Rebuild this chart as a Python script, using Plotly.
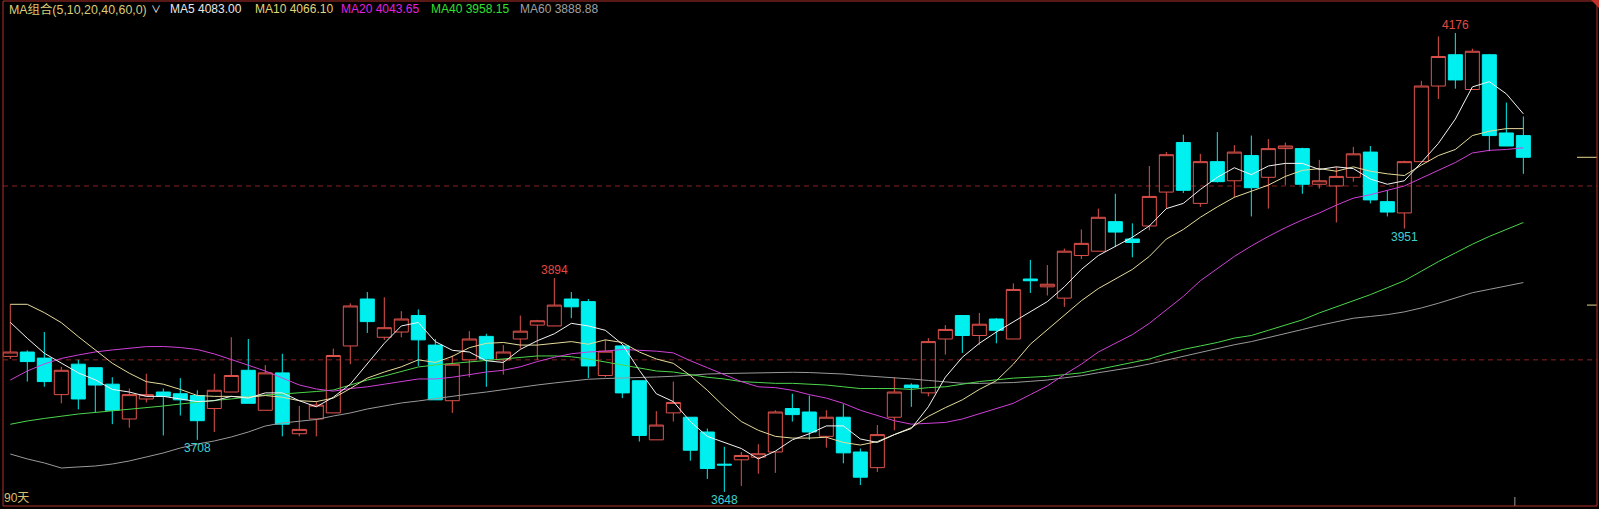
import plotly.graph_objects as go

# ---------------- data ----------------
opens = [3804,3809,3802,3760,3795,3791,3772,3732,3755,3763,3761,3759,3744,3763,3788,3742,3785,3715,3732,3739,
         3816,3870,3826,3832,3851,3817,3753,3800,3827,3800,3824,3840,3839,3870,3867,3782,3816,3776,3708,3739,
         3734,3717,3680,3685,3688,3694,3744,3740,3712,3734,3694,3676,3734,3771,3762,3824,3851,3828,3847,3824,
         3893,3884,3871,3920,3925,3959,3939,3954,3993,4050,3980,4028,4006,4035,4010,4043,4043,4002,4000,4010,
         4039,3982,3969,4028,4115,4151,4111,4151,4061,4058]
highs = [3864,3811,3832,3792,3800,3791,3780,3767,3784,3767,3779,3765,3784,3826,3824,3794,3807,3747,3752,3813,
         3865,3878,3872,3856,3858,3824,3805,3833,3830,3817,3851,3846,3894,3878,3870,3823,3817,3776,3741,3775,
         3734,3721,3700,3694,3703,3742,3761,3759,3742,3749,3698,3725,3780,3773,3825,3840,3851,3854,3848,3888,
         3915,3909,3928,3950,3974,3991,3957,4023,4039,4059,4037,4062,4047,4058,4054,4050,4044,4030,4022,4045,
         4046,3995,4029,4121,4172,4176,4158,4152,4096,4080]
lows = [3801,3775,3769,3750,3743,3739,3726,3722,3751,3713,3736,3708,3717,3763,3750,3742,3712,3712,3712,3739,
        3795,3831,3823,3826,3793,3754,3739,3780,3769,3783,3813,3800,3839,3848,3779,3780,3756,3706,3708,3729,
        3684,3663,3648,3655,3669,3670,3729,3708,3699,3681,3656,3671,3719,3746,3758,3806,3808,3817,3819,3824,
        3877,3874,3861,3916,3925,3930,3918,3949,3974,3992,3976,4004,3987,3965,3974,4001,3991,3997,3958,4005,
        3980,3965,3951,4028,4100,4112,4111,4040,4046,4014]
closes = [3809,3798,3775,3788,3755,3771,3742,3760,3760,3758,3754,3730,3765,3782,3750,3785,3726,3720,3748,3805,
          3862,3844,3837,3847,3823,3754,3795,3824,3801,3809,3833,3845,3863,3861,3793,3810,3762,3713,3725,3751,
          3696,3675,3679,3690,3692,3740,3737,3717,3734,3693,3665,3714,3763,3768,3821,3835,3828,3841,3834,3881,
          3891,3887,3925,3934,3964,3947,3935,3988,4036,3995,4028,4005,4039,3998,4043,4046,4002,4006,4011,4037,
          3984,3970,4028,4115,4149,4122,4155,4058,4046,4033]

ma5 = [3843.2,3824.8,3807.6,3796.1,
       3785,3777,3766,3763,3758,3758,3755,3752,3753,3758,3756,3762,3762,3753,3746,3757,3772,3796,3819,3839,
       3843,3821,3811,3809,3799,3797,3812,3822,3830,3842,3839,3834,3818,3788,3761,3752,3729,3712,3705,3698,
       3686,3695,3708,3715,3724,3724,3709,3705,3714,3721,3746,3780,3803,3819,3832,3844,3855,3867,3884,3904,
       3920,3931,3941,3954,3974,3980,3996,4010,4021,4013,4023,4026,4026,4019,4022,4020,4008,4002,4006,4027,
       4049,4077,4114,4120,4106,4083]
ma10 = [3863.9,3863.9,3854.3,3842.8,3826.7,3811.4,3796.1,3784.6,3774.9,
        3772,3766,3759,3758,3758,3757,3759,3757,3753,3752,3756,3767,3779,3786,3792,3800,3797,3804,3814,3819,
        3820,3817,3817,3819,3821,3818,3823,3820,3809,3801,3796,3782,3765,3746,3729,3719,3712,3710,3710,3711,
        3705,3702,3706,3714,3722,3735,3745,3754,3766,3776,3795,3818,3835,3851,3868,3882,3893,3904,3919,3939,
        3950,3964,3976,3987,3994,4001,4011,4018,4020,4017,4022,4017,4014,4012,4024,4035,4042,4058,4063,4066,
        4066]
ma20 = [3776.8,3787.2,3795.3,3801.6,3805.6,3809.1,3811.4,3813.7,3815.2,3815.4,3814.2,3811.9,3806.8,3800.4,
        3794.1,3787.2,3779.1,3771.1,3766.5,
        3764,3767,3769,3772,3775,3778,3778,3780,3783,3786,3788,3792,3798,3803,3807,3809,3810,3812,3811,3810,
        3808,3799,3791,3783,3775,3769,3768,3765,3760,3756,3750,3742,3736,3730,3726,3727,3728,3732,3738,3744,
        3750,3760,3770,3783,3795,3809,3819,3829,3842,3858,3873,3891,3905,3919,3931,3942,3952,3961,3969,3978,
        3986,3990,3995,4000,4009,4018,4027,4038,4041,4042,4044]
ma40 = [3725.9,3729.7,3732.6,3735.4,3737.7,3739.5,3741.2,3742.9,3744.6,3746.9,3749.2,3751.5,3753.3,3755.0,
        3757.3,3759.6,3760.7,3761.9,3763.6,3765.3,3771.1,3776.8,3781.4,3786.6,3791.8,3794.1,3795.8,3797.6,
        3799.9,3801.6,3803.3,3804.5,3804.5,3803.6,3801.0,3797.6,3794.1,3790.3,3787.2,
        3786,3783,3780,3778,3775,3774,3773,3773,3772,3771,3769,3767,3767,3767,3766,3768,3769,3772,3775,3777,
        3779,3780,3781,3783,3785,3789,3793,3797,3801,3807,3812,3816,3820,3825,3828,3834,3840,3846,3854,3861,
        3868,3875,3883,3891,3902,3913,3923,3933,3942,3950,3958]
ma60 = [3691.7,3686.0,3681.4,3675.6,3676.8,3677.9,3680.2,3683.7,3688.3,3692.9,3698.6,3703.2,3706.7,3711.3,
        3717.0,3723.9,3727.4,3729.7,3731.4,3735.4,3738.9,3743.5,3746.9,3750.4,3752.7,3755.6,3757.9,3760.7,
        3763.0,3765.9,3768.2,3771.1,3773.4,3775.7,3777.7,3778.5,3778.9,3779.4,3780.3,3781.1,3782.6,3783.7,
        3784.3,3784.7,3785.1,3785.5,3785.7,3785.4,3784.6,3783.7,3782.0,3780.9,3779.7,3778.0,3776.3,3774.5,
        3773.1,3772.9,3773.4,
        3773.9,3775.3,3776.8,3779.3,3781.7,3785.2,3788.1,3791.4,3795.2,3799.8,3803.7,3808.3,3812.9,3817.4,
        3821.0,3825.9,3830.3,3834.9,3839.6,3844.0,3847.9,3849.9,3852.0,3855.2,3859.7,3865.1,3871.2,3877.2,
        3881.1,3885.2,3888.9]

legend_texts = ["MA组合(5,10,20,40,60,0)", "∨", "MA5 4083.00", "MA10 4066.10", "MA20 4043.65",
                "MA40 3958.15", "MA60 3888.88"]
grid_levels = [4000, 3800]
right_ticks = [4033, 3863]
high_marks = [85, 32]          # candles whose high is labelled
low_marks = [11, 42, 82]       # candles whose low is labelled
period_label = "90天"
month_sep = 88.5

# ---------------- figure ----------------
W, H = 1599, 509
FONT = "Liberation Sans, Arial, Noto Sans CJK SC, sans-serif"
RED = '#e0524c'
CYAN = '#00f0f0'
FRAME = '#b0302a'
x = list(range(len(closes)))

fig = go.Figure()
fig.add_trace(go.Candlestick(
    x=x, open=opens, high=highs, low=lows, close=closes,
    increasing=dict(line=dict(color=RED, width=1), fillcolor='rgba(0,0,0,0)'),
    decreasing=dict(line=dict(color=CYAN, width=1), fillcolor=CYAN),
    whiskerwidth=0, showlegend=False, hoverinfo='skip'))

ma_styles = [(ma60, '#9a9a9a'), (ma40, '#4cd64c'), (ma20, '#d040d8'), (ma10, '#e6dc9a'), (ma5, '#f4f4f4')]
for vals, col in ma_styles:
    fig.add_trace(go.Scatter(x=x, y=vals, mode='lines', line=dict(color=col, width=1),
                             showlegend=False, hoverinfo='skip'))

def px(v):
    return v / W

def py(v):
    return 1 - v / H

shapes = []
for lv in grid_levels:
    shapes.append(dict(type='line', xref='paper', yref='y', x0=px(3), x1=px(1597), y0=lv, y1=lv,
                       line=dict(color='#8a2222', width=1, dash='5px,4px'), layer='below'))
for lv, x0 in zip(right_ticks, [1577, 1587]):
    shapes.append(dict(type='line', xref='paper', yref='y', x0=px(x0), x1=px(1597), y0=lv, y1=lv,
                       line=dict(color='#e8d890', width=1)))
shapes.append(dict(type='line', xref='x', yref='paper', x0=month_sep, x1=month_sep, y0=py(506), y1=py(497),
                   line=dict(color='#9a9a9a', width=1)))
# frame
shapes += [
    dict(type='line', xref='paper', yref='paper', x0=px(3), x1=px(3), y0=py(1), y1=py(506), line=dict(color=FRAME, width=1)),
    dict(type='line', xref='paper', yref='paper', x0=px(1597), x1=px(1597), y0=py(1), y1=py(506), line=dict(color=FRAME, width=1)),
    dict(type='line', xref='paper', yref='paper', x0=px(3), x1=px(1597), y0=py(1), y1=py(1), line=dict(color=FRAME, width=1)),
    dict(type='line', xref='paper', yref='paper', x0=px(3), x1=px(1597), y0=py(506), y1=py(506), line=dict(color=FRAME, width=1)),
    dict(type='path', xref='paper', yref='paper',
         path='M %f %f L %f %f L %f %f Z' % (px(1591), py(0), px(1599), py(0), px(1599), py(8)),
         fillcolor='#c03028', line=dict(width=0)),
]

ann = []
leg_x = [7, 149, 168, 253, 339, 429, 518]
leg_y = [9, 10, 9, 9, 9, 9, 9]
leg_s = [12.4, 10, 12, 12, 12, 12, 12]
leg_c = ['#dccb78', '#f0f0f0', '#e8e8e8', '#e0d478', '#e020e0', '#30e030', '#a0a0a0']
for t, lx, ly, s, c in zip(legend_texts, leg_x, leg_y, leg_s, leg_c):
    ann.append(dict(text=t, x=px(lx), y=py(ly), xref='paper', yref='paper', xanchor='left', yanchor='middle',
                    showarrow=False, font=dict(family=FONT, size=s, color=c)))
for i in high_marks:
    ann.append(dict(text=str(highs[i]), x=i, y=highs[i], xref='x', yref='y', yshift=8, xanchor='center',
                    yanchor='middle', showarrow=False, font=dict(family=FONT, size=12, color='#e04a44')))
for i in low_marks:
    ann.append(dict(text=str(lows[i]), x=i, y=lows[i], xref='x', yref='y', yshift=-8, xanchor='center',
                    yanchor='middle', showarrow=False, font=dict(family=FONT, size=12, color='#3cd2d2')))
ann.append(dict(text=period_label, x=px(2), y=py(498), xref='paper', yref='paper', xanchor='left', yanchor='middle',
                showarrow=False, font=dict(family=FONT, size=12, color='#d8c070')))

fig.update_layout(width=W, height=H, margin=dict(l=0, r=0, t=0, b=0, pad=0),
                  paper_bgcolor='black', plot_bgcolor='black',
                  boxgap=0.176, boxgroupgap=0,
                  xaxis=dict(range=[-0.606, 93.45], visible=False, rangeslider=dict(visible=False), fixedrange=True),
                  yaxis=dict(range=[3628.43, 4213.96], visible=False, fixedrange=True),
                  shapes=shapes, annotations=ann)
fig.write_html("out.html", config={'displayModeBar': False},
               post_script="document.body.style.margin='0';document.body.style.background='black';"
                           "document.body.style.overflow='hidden';")
